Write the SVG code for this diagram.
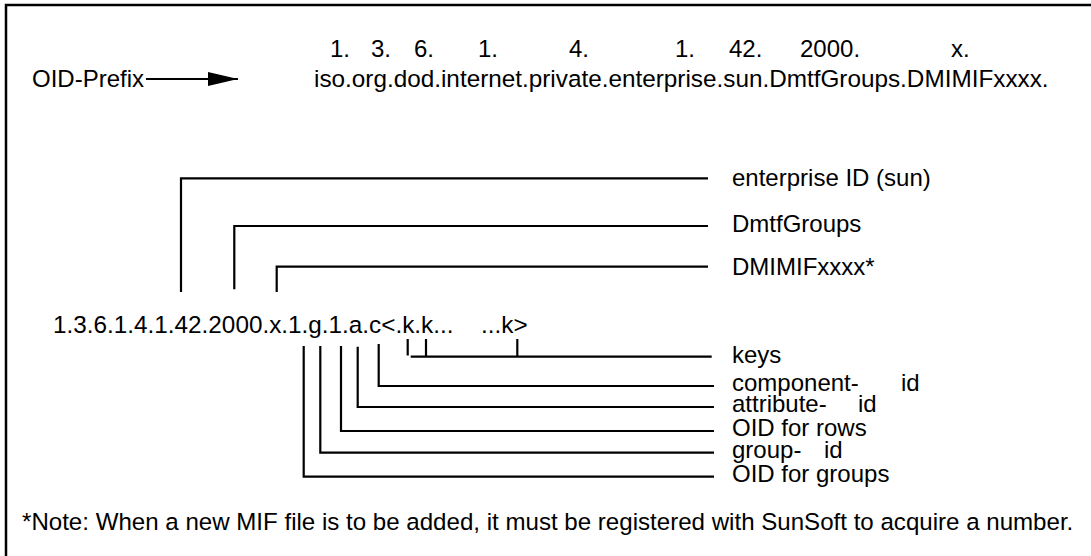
<svg xmlns="http://www.w3.org/2000/svg" width="1091" height="556" viewBox="0 0 1091 556">
<style>
text{font-family:"Liberation Sans",Arial,Helvetica,sans-serif;font-size:24px;fill:#000}
.wide{font-size:24.3px}
.ln{fill:none;stroke:#000;stroke-width:2.2}
</style>
<defs>
<marker id="ah" markerWidth="30" markerHeight="14" refX="30" refY="7" orient="auto" markerUnits="userSpaceOnUse">
<path d="M0,0 L30,7 L0,14 Z" fill="#000"/>
</marker>
</defs>
<rect x="0" y="0" width="1091" height="556" fill="#fff"/>
<rect id="frame" x="6" y="5" width="1100" height="600" fill="none" stroke="#000" stroke-width="2.5"/>
<g id="prefix">
<text x="32" y="87">OID-Prefix</text>
</g>
<g id="oid-numbers">
<text x="330" y="57">1.</text>
<text x="371" y="57">3.</text>
<text x="414" y="57">6.</text>
<text x="478" y="57">1.</text>
<text x="569" y="57">4.</text>
<text x="675" y="57">1.</text>
<text x="729" y="57">42.</text>
<text x="800" y="57">2000.</text>
<text x="951" y="57">x.</text>
</g>
<g id="oid-names">
<text class="wide" x="314" y="87">iso.org.dod.internet.private.enterprise.sun.DmtfGroups.DMIMIFxxxx.</text>
</g>
<g id="oid-string">
<text class="wide" x="53" y="333">1.3.6.1.4.1.42.2000.x.1.g.1.a.c&lt;.k.k...</text>
<text class="wide" x="481" y="333">...k&gt;</text>
</g>
<g id="label-enterprise"><text x="732" y="186">enterprise ID (sun)</text></g>
<g id="label-dmtf"><text x="732" y="232">DmtfGroups</text></g>
<g id="label-dmimif"><text x="732" y="275">DMIMIFxxxx*</text></g>
<g id="label-keys"><text x="732" y="363">keys</text></g>
<g id="label-component"><text x="732" y="391">component-</text><text x="901" y="391">id</text></g>
<g id="label-attribute"><text x="732" y="412">attribute-</text><text x="858" y="412">id</text></g>
<g id="label-rows"><text x="732" y="436">OID for rows</text></g>
<g id="label-group"><text x="732" y="458">group-</text><text x="824" y="458">id</text></g>
<g id="label-groups"><text x="732" y="482">OID for groups</text></g>
<g id="footnote"><text x="22" y="530" style="font-size:24.1px">*Note: When a new MIF file is to be added, it must be registered with SunSoft to acquire a number.</text></g>
<g id="connectors">
<path class="ln" d="M146,79 H238" marker-end="url(#ah)"/>
<path class="ln" d="M181,292 V178.3 H708"/>
<path class="ln" d="M234.3,289.3 V226 H708"/>
<path class="ln" d="M276.7,292 V266.7 H708"/>
<path class="ln" d="M407.7,339 V355.5"/>
<path class="ln" d="M410.7,356.7 H711.7"/>
<path class="ln" d="M426,339 V356.7"/>
<path class="ln" d="M517.3,339 V356.7"/>
<path class="ln" d="M378.7,344 V386 H714"/>
<path class="ln" d="M357.7,346.7 V407 H714"/>
<path class="ln" d="M341,346 V431 H714"/>
<path class="ln" d="M320.3,346 V452.7 H714"/>
<path class="ln" d="M303.7,346 V476.7 H714"/>
</g>
</svg>
